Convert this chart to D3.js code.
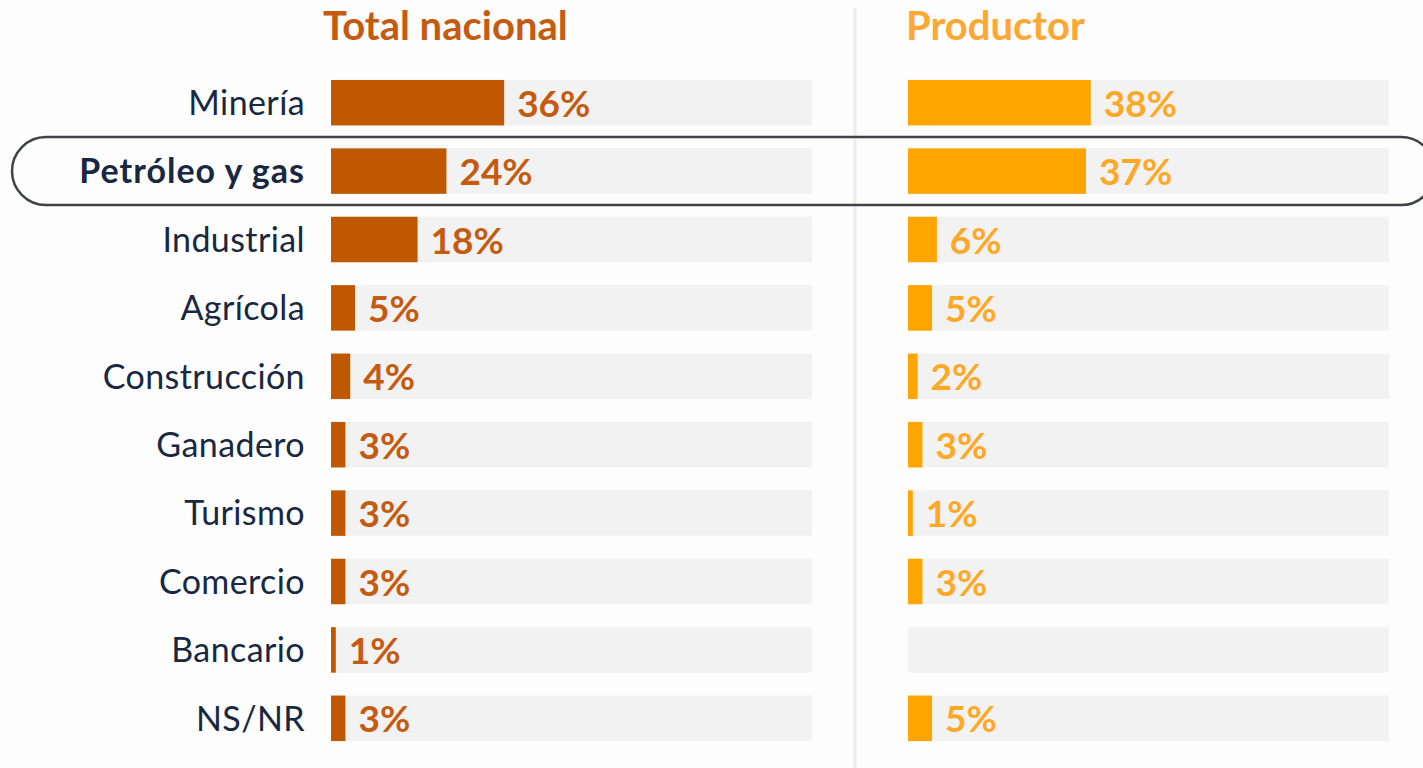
<!DOCTYPE html>
<html>
<head>
<meta charset="utf-8">
<script src="https://cdn.jsdelivr.net/npm/d3@7"></script>
<style>
  body { margin: 0; background: #fdfdfd; }
  svg { display: block; font-family: Lato, "Noto Sans", sans-serif; }
</style>
</head>
<body>
<div id="chart"></div>
<script>
// data
var sectores = ["Minería", "Petróleo y gas", "Industrial", "Agrícola", "Construcción",
  "Ganadero", "Turismo", "Comercio", "Bancario", "NS/NR"];
var totalNacional = [36, 24, 18, 5, 4, 3, 3, 3, 1, 3];
var productor = [38, 37, 6, 5, 2, 3, 1, 3, null, 5];
var panelTitles = ["Total nacional", "Productor"];
var destacado = "Petróleo y gas";

var width = 1423, height = 768;
var svg = d3.select("#chart").append("svg")
  .attr("width", width)
  .attr("height", height);

var y = d3.scaleBand()
  .domain(sectores)
  .range([68.5, 752.5])
  .paddingInner(0.335)
  .paddingOuter(0.1675);

var x = d3.scaleLinear().domain([0, 100]).range([0, 481]);

// divider between panels
svg.append("line")
  .attr("x1", 855).attr("x2", 855)
  .attr("y1", 8).attr("y2", height)
  .attr("stroke", "#ececec")
  .attr("stroke-width", 3);

// category labels
svg.append("g").selectAll("text")
  .data(sectores)
  .enter().append("text")
  .attr("x", 305)
  .attr("y", function(d) { return y(d) + y.bandwidth() / 2; })
  .attr("dy", "0.36em")
  .attr("text-anchor", "end")
  .attr("fill", "#172840")
  .attr("font-size", 34)
  .attr("letter-spacing", function(d) { return d === destacado ? 1 : 0.4; })
  .attr("font-weight", function(d) { return d === destacado ? 700 : 400; })
  .text(function(d) { return d; });

var panels = [
  {title: panelTitles[0], values: totalNacional, x0: 331, bar: "#c05800", text: "#c55a11", titleColor: "#c55a11", titleX: 323},
  {title: panelTitles[1], values: productor, x0: 908, bar: "#ffa500", text: "#ffa826", titleColor: "#ffa733", titleX: 906}
];

panels.forEach(function(p) {
  var g = svg.append("g").attr("transform", "translate(" + p.x0 + ",0)");

  svg.append("text")
    .attr("x", p.titleX)
    .attr("y", 40)
    .attr("fill", p.titleColor)
    .attr("font-size", 40)
    .attr("font-weight", 700)
    .text(p.title);

  var rows = sectores.map(function(s, i) { return {sector: s, value: p.values[i]}; });

  g.selectAll(".bg")
    .data(rows)
    .enter().append("rect")
    .attr("class", "bg")
    .attr("x", 0)
    .attr("y", function(d) { return y(d.sector); })
    .attr("width", x(100))
    .attr("height", y.bandwidth())
    .attr("fill", "#f2f2f2");

  var filled = rows.filter(function(d) { return d.value != null; });

  g.selectAll(".bar")
    .data(filled)
    .enter().append("rect")
    .attr("class", "bar")
    .attr("x", 0)
    .attr("y", function(d) { return y(d.sector); })
    .attr("width", function(d) { return x(d.value); })
    .attr("height", y.bandwidth())
    .attr("fill", p.bar);

  g.selectAll(".val")
    .data(filled)
    .enter().append("text")
    .attr("class", "val")
    .attr("x", function(d) { return x(d.value) + 13; })
    .attr("y", function(d) { return y(d.sector) + y.bandwidth() / 2; })
    .attr("dy", "0.38em")
    .attr("fill", p.text)
    .attr("font-size", 37)
    .attr("font-weight", 700)
    .text(function(d) { return d.value + "%"; });
});

// highlight outline around the featured row
var hy = y(destacado) + y.bandwidth() / 2;
svg.append("rect")
  .attr("x", 12)
  .attr("y", hy - 34)
  .attr("width", 1423)
  .attr("height", 68)
  .attr("rx", 34)
  .attr("ry", 34)
  .attr("fill", "none")
  .attr("stroke", "#3f4347")
  .attr("stroke-width", 2.5);
</script>
</body>
</html>
